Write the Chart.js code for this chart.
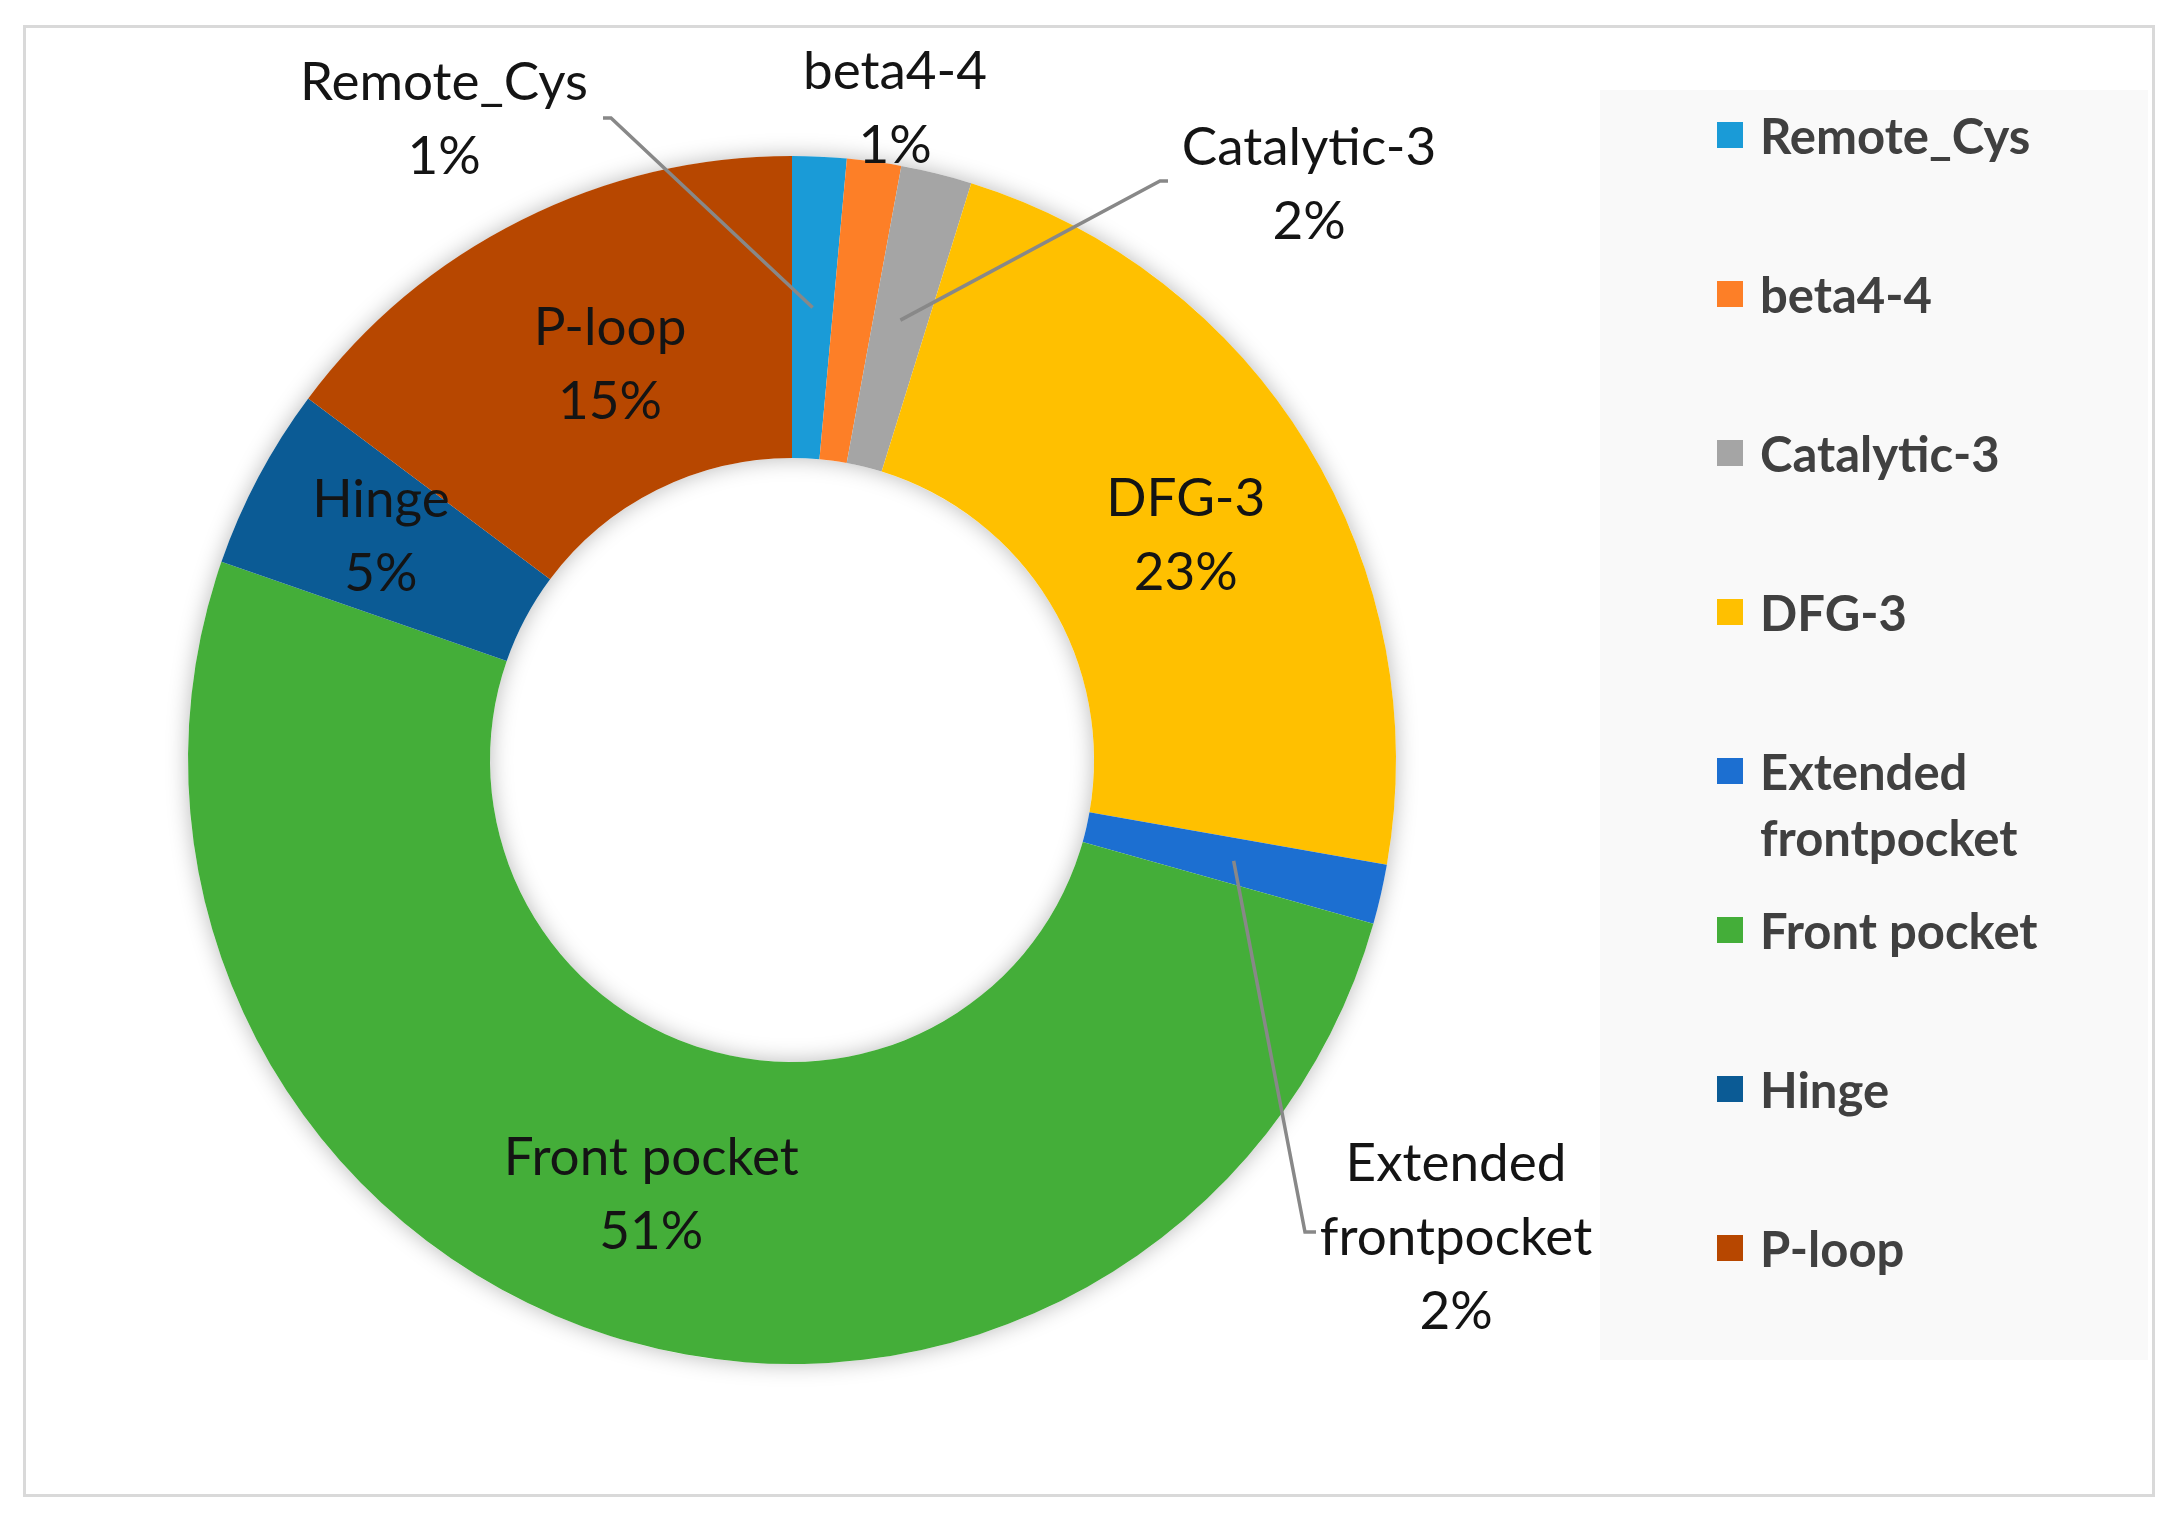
<!DOCTYPE html>
<html>
<head>
<meta charset="utf-8">
<script src="https://cdn.jsdelivr.net/npm/chart.js@4.4.1/dist/chart.umd.min.js"></script>
<style>
  html, body { margin: 0; padding: 0; background: #fff; }
  #wrap { position: relative; width: 2176px; height: 1519px; overflow: hidden; }
  #frame { position: absolute; left: 23px; top: 25px; width: 2126px; height: 1466px; border: 3px solid #d9d9d9; }
  #panel { position: absolute; left: 1600px; top: 90px; width: 548px; height: 1270px; background: #f9f9f9; }
  .item { position: absolute; left: 1717px; width: 420px; font: bold 49px Lato, sans-serif; color: #404040; line-height: 66px; }
  .item .box { position: absolute; left: 0; top: 20px; width: 26px; height: 26px; }
  .item .txt { margin-left: 43px; width: 370px; }
  canvas { position: absolute; left: 0; top: 0; }
</style>
</head>
<body>
<div id="wrap">
  <div id="frame"></div>
  <div id="panel"></div>
  <div id="legend"></div>
  <canvas id="myChart" width="2176" height="1519"></canvas>
</div>
<script>
// categories, clockwise from 12 o'clock
const categories = ['Remote_Cys', 'beta4-4', 'Catalytic-3', 'DFG-3', 'Extended frontpocket', 'Front pocket', 'Hinge', 'P-loop'];
// share of sites (%)
const values = [1.45, 1.45, 1.9, 23, 1.6, 51, 4.9, 14.8];
const colors = ['#1a9bd7', '#fd7f27', '#a5a5a5', '#ffc000', '#1c6fd1', '#44ae39', '#0b5b95', '#b74700'];
// line breaks used in the slice labels
const labelLines = [['Remote_Cys'], ['beta4-4'], ['Catalytic-3'], ['DFG-3'], ['Extended', 'frontpocket'], ['Front pocket'], ['Hinge'], ['P-loop']];

// labels that sit outside the ring (text centre + leader elbow points)
const outside = {
  0: { x: 444, y: 120, path: [[611, 118], [603, 118]] },
  1: { x: 895, y: 109, path: null },
  2: { x: 1309, y: 185, path: [[1160, 181], [1168, 181]] },
  4: { x: 1456, y: 1238, path: [[1305, 1232], [1316, 1232]] }
};
// small shifts for the labels inside the ring
const nudge = { 3: [7, 12], 5: [-5, 3], 6: [-11, -11], 7: [21, 10] };

// html legend
var legend = document.getElementById('legend');
for (var i = 0; i < categories.length; i++) {
  var it = document.createElement('div');
  it.className = 'item';
  it.style.top = (135 + i * 159 - 33) + 'px';
  it.innerHTML = '<div class="box" style="background:' + colors[i] + '"></div><div class="txt">' + categories[i] + '</div>';
  legend.appendChild(it);
}

// soft shadow round the ring
const ringShadow = {
  id: 'ringShadow',
  beforeDatasetsDraw(chart) {
    const arc = chart.getDatasetMeta(0).data[0];
    if (!arc) return;
    const ctx = chart.ctx;
    ctx.save();
    ctx.shadowColor = 'rgba(0, 0, 0, 0.28)';
    ctx.shadowBlur = 22;
    ctx.fillStyle = '#ffffff';
    ctx.beginPath();
    ctx.arc(arc.x, arc.y, arc.outerRadius, 0, Math.PI * 2);
    ctx.arc(arc.x, arc.y, arc.innerRadius, 0, Math.PI * 2, true);
    ctx.fill();
    ctx.restore();
  }
};

const sliceLabels = {
  id: 'sliceLabels',
  afterDatasetsDraw(chart) {
    const ctx = chart.ctx;
    const meta = chart.getDatasetMeta(0);
    const total = values.reduce((a, b) => a + b, 0);
    ctx.save();
    ctx.font = '53px Lato';
    ctx.fillStyle = '#141414';
    ctx.textAlign = 'center';
    ctx.textBaseline = 'middle';
    meta.data.forEach((arc, i) => {
      const lines = labelLines[i].concat(Math.round(values[i] / total * 100) + '%');
      const mid = arc.tooltipPosition();
      let x = mid.x, y = mid.y;
      const out = outside[i];
      if (out) {
        if (out.path) {
          ctx.strokeStyle = '#888888';
          ctx.lineWidth = 3.5;
          ctx.beginPath();
          ctx.moveTo(mid.x, mid.y);
          out.path.forEach(p => ctx.lineTo(p[0], p[1]));
          ctx.stroke();
        }
        x = out.x;
        y = out.y;
      } else if (nudge[i]) {
        x += nudge[i][0];
        y += nudge[i][1];
      }
      const lh = 74;
      const y0 = y - (lines.length - 1) * lh / 2;
      lines.forEach((t, k) => ctx.fillText(t, x, y0 + k * lh));
    });
    ctx.restore();
  }
};

new Chart(document.getElementById('myChart'), {
  type: 'doughnut',
  data: {
    labels: categories,
    datasets: [{
      data: values,
      backgroundColor: colors,
      borderWidth: 0,
      hoverBorderWidth: 0,
      hoverOffset: 0
    }]
  },
  options: {
    responsive: false,
    animation: false,
    cutout: '50%',
    layout: { padding: { left: 188, right: 780, top: 156, bottom: 155 } },
    plugins: {
      legend: { display: false },
      tooltip: { enabled: false }
    }
  },
  plugins: [ringShadow, sliceLabels]
});
</script>
</body>
</html>
